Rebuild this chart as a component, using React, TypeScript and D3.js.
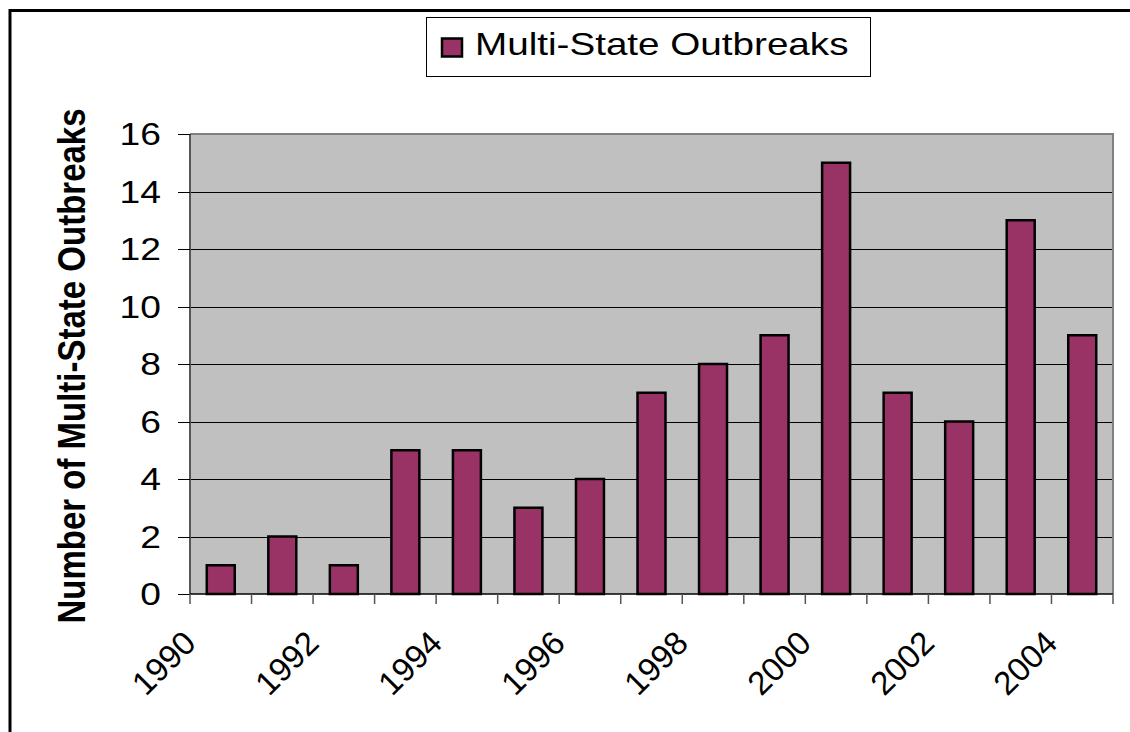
import React from "react";
import * as d3 from "d3";

// Multi-state outbreaks per year
const years: string[] = [
  "1990", "1991", "1992", "1993", "1994", "1995", "1996", "1997",
  "1998", "1999", "2000", "2001", "2002", "2003", "2004",
];
const outbreaks: number[] = [1, 2, 1, 5, 5, 3, 4, 7, 8, 9, 15, 7, 6, 13, 9];
const yTicks: number[] = [0, 2, 4, 6, 8, 10, 12, 14, 16];
const seriesName = "Multi-State Outbreaks";
const yTitle = "Number of Multi-State Outbreaks";

const W = 1130;
const H = 732;
const plot = { left: 190, right: 1113, top: 134, bottom: 594 };
const FONT = "'Liberation Sans', Arial, Helvetica, sans-serif";
const BAR_FILL = "#993366";
const PLOT_BG = "#C0C0C0";
const STRETCH = 1.2; // horizontal widening of the lettering

export default function App() {
  const x = d3
    .scaleBand<string>()
    .domain(years)
    .range([plot.left, plot.right])
    .paddingInner(0)
    .paddingOuter(0);
  const y = d3.scaleLinear().domain([0, 16]).range([plot.bottom, plot.top]);

  const band = x.bandwidth();
  const barW = band / 2.2; // gap width 120%
  const boundaries = d3.range(years.length + 1).map((i) => plot.left + i * band);

  return (
    <svg
      width={W}
      height={H}
      style={{ position: "absolute", left: 0, top: 0, background: "#fff" }}
      fontFamily={FONT}
    >
      {/* outer frame */}
      <rect x={10} y={10.5} width={W + 20} height={H + 20} fill="none" stroke="#000" strokeWidth={3} />

      {/* legend */}
      <rect x={426.5} y={17.5} width={444} height={59} fill="#fff" stroke="#000" strokeWidth={1} />
      <rect x={442} y={38.5} width={20} height={18} fill={BAR_FILL} stroke="#000" strokeWidth={2.5} />
      <g transform={`translate(475,55) scale(1.2,1)`}>
        <text x={0} y={0} fontSize={32.2} fill="#000">
          {seriesName}
        </text>
      </g>

      {/* plot area */}
      <rect
        x={plot.left}
        y={plot.top}
        width={plot.right - plot.left}
        height={plot.bottom - plot.top}
        fill={PLOT_BG}
      />
      {/* gridlines */}
      {yTicks
        .filter((t) => t > 0 && t < 16)
        .map((t) => (
          <line
            key={`g${t}`}
            x1={plot.left}
            x2={plot.right}
            y1={Math.round(y(t)) + 0.5}
            y2={Math.round(y(t)) + 0.5}
            stroke="#000"
            strokeWidth={1}
          />
        ))}
      {/* plot border: top and right */}
      <polyline
        points={`${plot.left},${plot.top} ${plot.right},${plot.top} ${plot.right},${plot.bottom}`}
        fill="none"
        stroke="#808080"
        strokeWidth={2}
      />

      {/* bars */}
      {outbreaks.map((v, i) => {
        const cx = (x(years[i]) as number) + band / 2;
        return (
          <rect
            key={years[i]}
            x={cx - barW / 2}
            y={y(v)}
            width={barW}
            height={y(0) - y(v)}
            fill={BAR_FILL}
            stroke="#000"
            strokeWidth={2.5}
          />
        );
      })}

      {/* y axis */}
      <line x1={plot.left} x2={plot.left} y1={plot.top} y2={plot.bottom} stroke="#555" strokeWidth={2} />
      {yTicks.map((t) => (
        <g key={`yt${t}`}>
          <line
            x1={plot.left - 12}
            x2={plot.left}
            y1={Math.round(y(t)) + 0.5}
            y2={Math.round(y(t)) + 0.5}
            stroke="#000"
            strokeWidth={1}
          />
          <g transform={`translate(161,${y(t)}) scale(${STRETCH},1)`}>
            <text x={0} y={0} dy="0.36em" textAnchor="end" fontSize={31} fill="#000">
              {t}
            </text>
          </g>
        </g>
      ))}

      {/* x axis */}
      <line x1={plot.left} x2={plot.right} y1={plot.bottom} y2={plot.bottom} stroke="#000" strokeWidth={1.5} />
      {boundaries.map((bx, i) => (
        <line
          key={`xt${i}`}
          x1={bx}
          x2={bx}
          y1={plot.bottom}
          y2={plot.bottom + 10}
          stroke="#555"
          strokeWidth={1.5}
        />
      ))}
      {years.map((yr, i) =>
        i % 2 === 0 ? (
          <text
            key={`xl${yr}`}
            transform={`translate(${(x(yr) as number) + band / 2 - 23},645) rotate(-45)`}
            textAnchor="end"
            fontSize={33}
            fill="#000"
          >
            {yr}
          </text>
        ) : null
      )}

      {/* y axis title */}
      <g transform={`translate(85,${(plot.top + plot.bottom) / 2 + 2}) rotate(-90) scale(1,${STRETCH})`}>
        <text x={0} y={0} textAnchor="middle" fontSize={33} fontWeight="bold" fill="#000">
          {yTitle}
        </text>
      </g>
    </svg>
  );
}
